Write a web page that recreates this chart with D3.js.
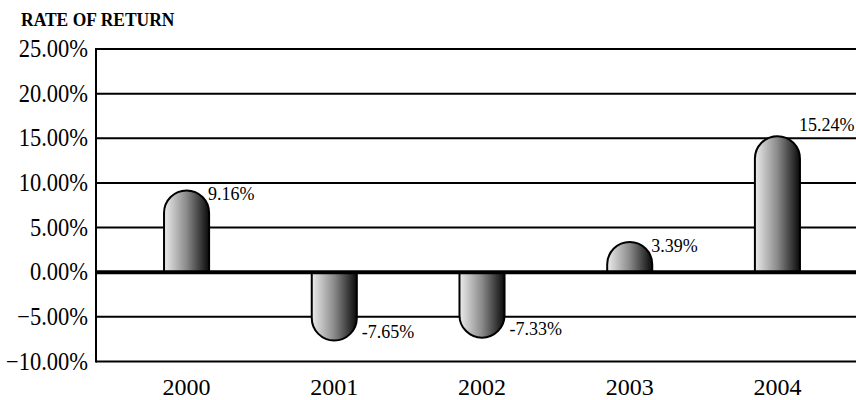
<!DOCTYPE html>
<html><head><meta charset="utf-8">
<script src="https://cdn.jsdelivr.net/npm/d3@7/dist/d3.min.js"></script>
<style>body{margin:0;background:#fff}svg{display:block}</style>
</head><body>
<svg id="chart" width="856" height="400"></svg>
<script>
const title = "RATE OF RETURN";
const years = ["2000","2001","2002","2003","2004"];
const returns = [9.16, -7.65, -7.33, 3.39, 15.24];
const valueLabels = ["9.16%","-7.65%","-7.33%","3.39%","15.24%"];
const yTicks = [-10, -5, 0, 5, 10, 15, 20, 25];

const W = 856, H = 400;
const svg = d3.select("#chart");
const font = "'Liberation Serif','Times New Roman',serif";

const y = d3.scaleLinear().domain([-10, 25]).range([361.5, 49]);
const x = d3.scaleBand().domain(years).range([102, 862]).paddingInner(0.695).paddingOuter(0.42);
const bw = x.bandwidth();

const defs = svg.append("defs");
const g = defs.append("linearGradient").attr("id","barGrad").attr("x1","0%").attr("x2","100%").attr("y1","0%").attr("y2","0%");
g.append("stop").attr("offset","0%").attr("stop-color","#ececec");
g.append("stop").attr("offset","50%").attr("stop-color","#8a8a8a");
g.append("stop").attr("offset","100%").attr("stop-color","#0a0a0a");

// title
svg.append("text").attr("transform","translate(21,26) scale(1,1.12)").attr("font-family",font).attr("font-weight","bold")
  .attr("font-size",17.5).attr("fill","#000").text(title);

// gridlines
svg.append("g").selectAll("line").data(yTicks.filter(t=>t!==0)).join("line")
  .attr("x1",96).attr("x2",W).attr("y1",d=>y(d)).attr("y2",d=>y(d))
  .attr("stroke","#000").attr("stroke-width",2);

// y tick labels
svg.append("g").selectAll("text").data(yTicks).join("text")
  .attr("transform",d=>`translate(88,${y(d)+8}) scale(1,1.08)`).attr("text-anchor","end")
  .attr("font-family",font).attr("font-size",22.5).attr("fill","#000")
  .text(d=>d3.format(".2f")(d)+"%");

// bars
const y0 = y(0);
function barPath(v, cx){
  const x0 = cx - bw/2, x1 = cx + bw/2, r = bw/2;
  const yt = y(v);
  const h = Math.abs(yt - y0);
  const ry = Math.min(r, h);
  if (v >= 0) {
    return `M${x0},${y0} L${x0},${yt+ry} A${r},${ry} 0 0 1 ${x1},${yt+ry} L${x1},${y0} Z`;
  } else {
    return `M${x0},${y0} L${x0},${yt-ry} A${r},${ry} 0 0 0 ${x1},${yt-ry} L${x1},${y0} Z`;
  }
}
const data = years.map((yr,i)=>({yr, v:returns[i], label:valueLabels[i]}));
const maxV = d3.max(returns);
svg.append("g").selectAll("path").data(data).join("path")
  .attr("d",d=>barPath(d.v, x(d.yr)+bw/2))
  .attr("fill","url(#barGrad)").attr("stroke","#000").attr("stroke-width",2);

// y axis line
svg.append("line").attr("x1",96).attr("x2",96).attr("y1",y(25)-1).attr("y2",y(-10)+1)
  .attr("stroke","#000").attr("stroke-width",2);

// zero line
svg.append("line").attr("x1",96).attr("x2",W).attr("y1",y0).attr("y2",y0)
  .attr("stroke","#000").attr("stroke-width",4);

// value labels
svg.append("g").selectAll("text").data(data).join("text")
  .attr("x",d=> d.v>=0 ? x(d.yr)+bw-1 : x(d.yr)+bw+5)
  .attr("y",d=> d.v>=0 ? (d.v===maxV ? y(d.v)-5 : y(d.v)+10) : y(d.v)-3)
  .attr("font-family",font).attr("font-size",18).attr("fill","#000")
  .text(d=>d.label);

// x labels
svg.append("g").selectAll("text").data(years).join("text")
  .attr("x",d=>x(d)+bw/2).attr("y",395).attr("text-anchor","middle")
  .attr("font-family",font).attr("font-size",24).attr("fill","#000")
  .text(d=>d);
</script>
</body></html>
